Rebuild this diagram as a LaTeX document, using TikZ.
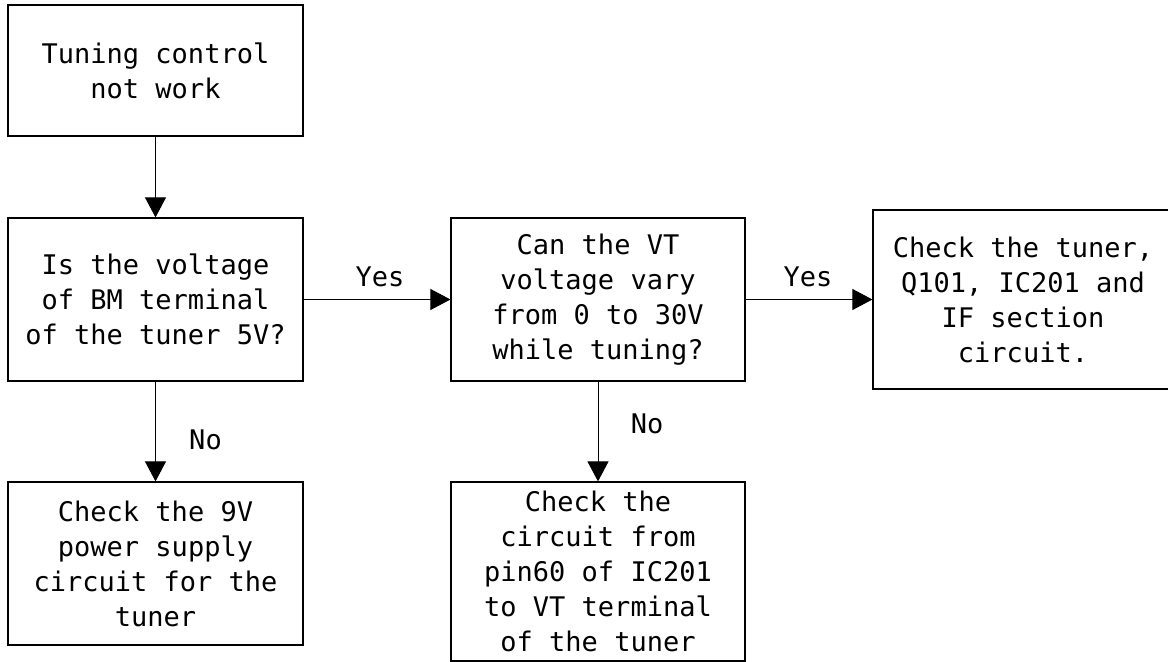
\documentclass[tikz,border=0pt]{standalone}
\usepackage{fontspec}
\newfontfamily\chartfont{DejaVu Sans Mono}
\usetikzlibrary{arrows.meta}
\tikzset{
  stepbox/.style={draw, line width=0.6pt, inner sep=0pt, align=center,
    font=\chartfont\fontsize{13.5}{17.5}\selectfont},
  flow/.style={line width=0.5pt, -{Triangle[width=10.5pt,length=10pt]}},
  answer/.style={font=\chartfont\fontsize{13.5}{17.5}\selectfont}
}
\begin{document}
\begin{tikzpicture}[x=0.5pt,y=-0.5pt]
    \useasboundingbox (0,0) rectangle (1168,662);
    \node[stepbox, minimum width=147.5pt, minimum height=65.5pt] (fault) at (155.5,70.5)
        {Tuning control\\not work};
    \node[stepbox, minimum width=147.5pt, minimum height=81.5pt] (bmq) at (155.5,299.5)
        {Is the voltage\\of BM terminal\\of the tuner 5V?};
    \node[stepbox, minimum width=147pt, minimum height=81.5pt] (vtq) at (598,299.5)
        {Can the VT\\voltage vary\\from 0 to 30V\\while tuning?};
    % right side runs off the page, as in the original
    \node[stepbox, minimum width=150pt, minimum height=89.5pt] (tuner) at (1023,299.5)
        {Check the tuner,\\Q101, IC201 and\\IF section\\circuit.};
    \node[stepbox, minimum width=147.5pt, minimum height=81.5pt] (supply) at (155.5,563.5)
        {Check the 9V\\power supply\\circuit for the\\tuner};
    \node[stepbox, minimum width=147pt, minimum height=89.5pt] (pin) at (598,571.5)
        {Check the\\circuit from\\pin60 of IC201\\to VT terminal\\of the tuner};
    \draw[flow] (fault) -- (bmq);
    \draw[flow] (bmq) -- (vtq);
    \draw[flow] (vtq) -- (tuner);
    \draw[flow] (bmq) -- (supply);
    \draw[flow] (vtq) -- (pin);
    \node[answer] (yes1) at (380,276.5) {Yes};
    \node[answer] (yes2) at (808,276.5) {Yes};
    \node[answer] (no1) at (205.5,440) {No};
    \node[answer] (no2) at (647,424) {No};
\end{tikzpicture}
\end{document}
